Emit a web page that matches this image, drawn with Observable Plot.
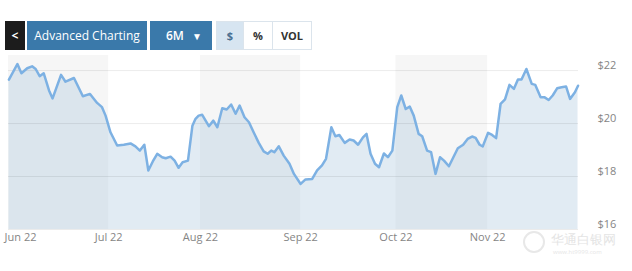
<!DOCTYPE html>
<html>
<head>
<meta charset="utf-8">
<script src="https://cdn.jsdelivr.net/npm/d3@7"></script>
<script src="https://cdn.jsdelivr.net/npm/@observablehq/plot@0.6"></script>
<style>
  html, body { margin: 0; padding: 0; background: #fff; }
  body { width: 632px; height: 271px; position: relative; overflow: hidden; font-family: "Open Sans", sans-serif; }
  #bar { position: relative; height: 52px; }
  .btn { position: absolute; top: 21px; height: 29px; box-sizing: border-box; display: flex; align-items: center; justify-content: center; font-size: 12px; }
  #back { left: 5px; width: 20px; background: #1c1c1c; color: #fff; font-weight: bold; }
  #adv { left: 27px; width: 120px; background: #3a79aa; color: #fff; }
  #per { left: 150px; width: 62px; background: #3a79aa; color: #fff; font-weight: 600; justify-content: space-between; padding: 0 10px 0 16px; }
  .tg { border: 1px solid #dbe4ec; color: #333; font-weight: 700; font-size: 11px; background: #fff; }
  #usd { left: 216px; width: 28px; background: #d7e5f1; color: #4a6f91; }
  #pct { left: 243px; width: 30px; }
  #vol { left: 272px; width: 40px; }
  #wm { position: absolute; left: 523px; top: 231px; width: 105px; height: 30px; color: #e4e4e4; font-size: 13px; }
  #wm .logo { position: absolute; left: 0; top: 0; width: 22px; height: 22px; border: 2px solid #e8e8e8; border-radius: 50%; box-sizing: border-box; }
  #wm .cn { position: absolute; left: 28px; top: 2px; line-height: 13px; }
  #wm .url { position: absolute; left: 30px; top: 18px; font-size: 6px; line-height: 7px; color: #e6e6e6; }
</style>
</head>
<body>
<div id="bar">
  <div class="btn" id="back">&lt;</div>
  <div class="btn" id="adv">Advanced Charting</div>
  <div class="btn" id="per"><span>6M</span><span style="font-size:10px">&#9660;</span></div>
  <div class="btn tg" id="usd">$</div>
  <div class="btn tg" id="pct">%</div>
  <div class="btn tg" id="vol">VOL</div>
</div>
<div id="chart"></div>
<div id="wm"><div class="logo"></div><span class="cn">华通白银网</span><span class="url">www.ht9999.com</span></div>
<script>
// trading-day index and closing price ($)
const day = [0.1,2.0,2.9,4.2,5.3,6.1,7.0,7.9,9.1,9.9,11.8,12.8,14.7,16.7,18.3,19.9,21.0,21.8,22.9,24.4,25.9,27.4,28.5,29.5,30.5,31.4,32.4,33.4,34.5,35.3,36.4,37.3,38.2,39.1,40.3,41.3,42.0,42.7,43.5,45.0,46.0,46.9,48.0,49.0,50.0,51.0,51.9,53.0,54.0,55.1,56.2,57.3,58.2,59.0,59.7,60.7,61.8,63.1,64.1,65.6,66.7,68.2,69.3,70.4,71.3,72.5,73.4,74.3,75.5,76.6,77.5,78.5,79.6,80.4,81.3,82.3,83.2,84.3,85.2,86.2,87.3,88.2,89.2,90.1,91.0,92.1,92.9,94.0,94.9,95.9,96.9,97.8,98.9,99.9,100.9,102.1,103.1,104.1,104.9,105.8,106.5,107.7,108.6,109.5,110.5,111.5,112.5,113.5,114.4,115.2,116.3,117.5,118.3,119.5,120.4,121.3,122.2,123.2,124.2,125.2,126.1,127.2,127.9];
const price = [21.66,22.25,21.9,22.09,22.16,22.06,21.79,21.9,21.25,20.95,21.84,21.58,21.72,21.03,21.12,20.78,20.62,20.3,19.67,19.17,19.2,19.25,19.14,18.98,19.2,18.23,18.57,18.86,18.73,18.69,18.75,18.6,18.33,18.54,18.6,19.92,20.18,20.3,20.33,19.9,20.11,19.86,20.58,20.53,20.72,20.37,20.68,20.24,20.05,19.65,19.27,18.95,18.86,18.98,18.92,19.14,18.79,18.48,18.1,17.72,17.89,17.91,18.23,18.42,18.67,19.86,19.52,19.57,19.27,19.4,19.36,19.2,19.48,19.61,18.86,18.48,18.35,18.87,18.73,18.98,20.62,21.06,20.55,20.64,20.3,19.61,19.52,18.98,18.92,18.1,18.73,18.6,18.39,18.73,19.07,19.2,19.42,19.51,19.46,19.2,19.14,19.65,19.57,19.45,20.74,20.91,21.46,21.31,21.66,21.66,22.06,21.5,21.46,20.99,20.99,20.89,21.06,21.33,21.37,21.4,20.93,21.18,21.43];
const monthLabels = ["Jun 22","Jul 22","Aug 22","Sep 22","Oct 22","Nov 22"];
const monthPos = [2.7,22.5,43.1,65.6,87.0,107.6];
const monthStart = [0,22.5,43.1,65.6,87.0,107.6,128];
const yTicks = [16,18,20,22];

const rows = day.map((d, i) => ({day: d, price: price[i]}));
const bands = [0, 2, 4].map(i => ({x1: monthStart[i], x2: monthStart[i + 1]}));

const chart = Plot.plot({
  width: 632,
  height: 219,
  marginLeft: 8,
  marginRight: 54,
  marginTop: 3,
  marginBottom: 42,
  style: {fontFamily: "'Open Sans', sans-serif", fontSize: "11px", color: "#858585", background: "transparent"},
  x: {domain: [0, 128], axis: null},
  y: {domain: [16, 22.57], axis: null},
  marks: [
    Plot.rect(bands, {x1: "x1", x2: "x2", fill: "#f6f6f6"}),
    Plot.areaY(rows, {x: "day", y1: 16, y2: "price", fill: "#b3cde0", fillOpacity: 0.4}),
    Plot.ruleY(yTicks, {stroke: "#000", strokeOpacity: 0.08}),
    Plot.lineY(rows, {x: "day", y: "price", stroke: "#7db1e3", strokeWidth: 2.5}),
    Plot.axisX({ticks: monthPos, tickFormat: d => monthLabels[monthPos.indexOf(d)], tickSize: 0, tickPadding: 4, label: null}),
    Plot.axisY({anchor: "right", ticks: yTicks, tickFormat: d => "$" + d, tickSize: 0, tickPadding: 19, dy: -5, label: null})
  ]
});
document.getElementById("chart").appendChild(chart);
</script>
</body>
</html>
